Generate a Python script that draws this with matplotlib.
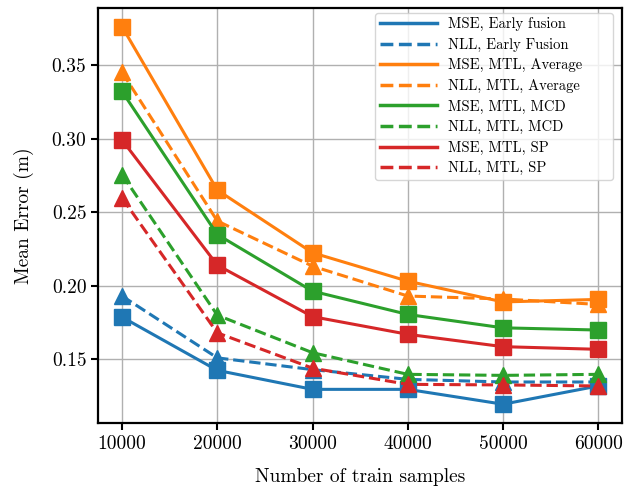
import matplotlib
matplotlib.use("Agg")
import matplotlib.pyplot as plt
from matplotlib.lines import Line2D

plt.rcParams['font.family'] = ['cmr10', 'DejaVu Serif']
plt.rcParams['mathtext.fontset'] = 'cm'
plt.rcParams['axes.formatter.use_mathtext'] = True

samples = [10000, 20000, 30000, 40000, 50000, 60000]

mse_early = [0.1787, 0.1425, 0.1296, 0.1296, 0.1195, 0.1319]
nll_early = [0.193, 0.151, 0.143, 0.1364, 0.1346, 0.1346]
mse_avg = [0.376, 0.265, 0.2224, 0.2031, 0.189, 0.1907]
nll_avg = [0.345, 0.244, 0.2133, 0.193, 0.191, 0.1873]
mse_mcd = [0.332, 0.2348, 0.1963, 0.1805, 0.1714, 0.1699]
nll_mcd = [0.2755, 0.180, 0.1545, 0.1398, 0.1391, 0.1398]
mse_sp = [0.299, 0.214, 0.179, 0.167, 0.1586, 0.1568]
nll_sp = [0.2596, 0.168, 0.1440, 0.133, 0.1326, 0.1319]

series = [
    ("MSE, Early fusion", mse_early, "#1f77b4", "-", "s"),
    ("NLL, Early Fusion", nll_early, "#1f77b4", "--", "^"),
    ("MSE, MTL, Average", mse_avg, "#ff7f0e", "-", "s"),
    ("NLL, MTL, Average", nll_avg, "#ff7f0e", "--", "^"),
    ("MSE, MTL, MCD", mse_mcd, "#2ca02c", "-", "s"),
    ("NLL, MTL, MCD", nll_mcd, "#2ca02c", "--", "^"),
    ("MSE, MTL, SP", mse_sp, "#d62728", "-", "s"),
    ("NLL, MTL, SP", nll_sp, "#d62728", "--", "^"),
]

fig = plt.figure(figsize=(6.38, 4.88), dpi=100)
ax = fig.add_axes([0.154, 0.133, 0.821, 0.851])

for label, vals, color, ls, mk in series:
    ax.plot(samples, vals, color=color, linestyle=ls, linewidth=2.2,
            marker=mk, markersize=12, label=label)

ax.grid(True, color='#b0b0b0', linewidth=1.0)
ax.set_axisbelow(True)
ax.set_xticks(samples)
ax.set_xticklabels([str(s) for s in samples])
ax.set_yticks([0.15, 0.20, 0.25, 0.30, 0.35])
ax.set_yticklabels(["0.15", "0.20", "0.25", "0.30", "0.35"])
ax.tick_params(labelsize=14, width=1.5, length=5)
for sp in ax.spines.values():
    sp.set_linewidth(1.6)
ax.set_xlabel("Number of train samples", fontsize=14, labelpad=11)
ax.set_ylabel("Mean Error (m)", fontsize=14, labelpad=13)

handles = [Line2D([0], [0], color=c, linestyle=ls, linewidth=2.5) for _, _, c, ls, _ in series]
labels = [s[0] for s in series]
ax.legend(handles, labels, loc='upper left', bbox_to_anchor=(0.529, 0.602, 0.454, 0.386),
          mode='expand', fontsize=10.5, handlelength=3.9, handletextpad=0.75,
          labelspacing=0.45, framealpha=0.8, edgecolor='#cccccc',
          borderaxespad=0.0, borderpad=0.3)

fig.savefig("out.png", dpi=100)
